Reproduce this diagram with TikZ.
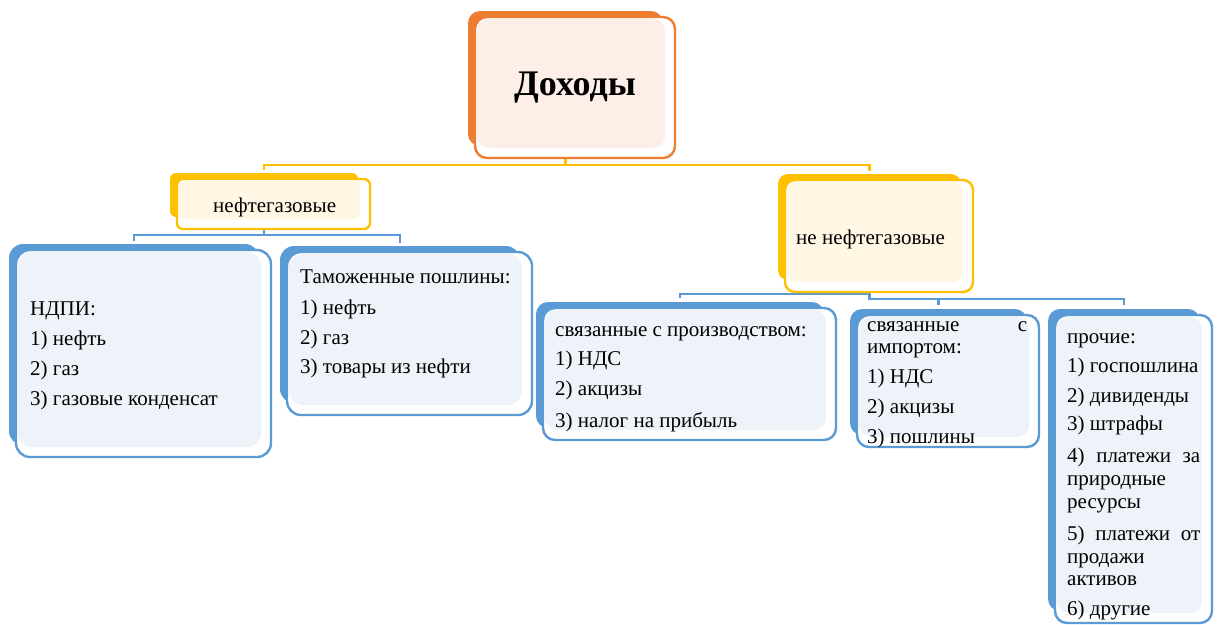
\documentclass[tikz,border=0pt]{standalone}
\usepackage{fontspec}
\setmainfont{Liberation Serif}
\usetikzlibrary{backgrounds}
\definecolor{cOr}{HTML}{ED7D31}
\definecolor{fOr}{HTML}{FDEFE7}
\definecolor{cGo}{HTML}{FFC000}
\definecolor{fGo}{HTML}{FFF7E3}
\definecolor{cBl}{HTML}{5B9BD5}
\definecolor{fBl}{HTML}{EEF3FA}
\newcommand{\tribox}[8]{%
  \node[fill=#2, rounded corners=#8, anchor=north west, inner sep=0pt, outer sep=0pt,
        minimum width={#6-#4-5}, minimum height={#7-#5-6}] (#1b) at (#4-7,#5-6) {};
  \node[draw=#2, line width=2.4pt, fill=white, rounded corners=#8, anchor=north west, inner sep=0pt, outer sep=0pt,
        minimum width={#6-#4}, minimum height={#7-#5}] (#1) at (#4,#5) {};
  \fill[#3, rounded corners=#8] (#4+2,#5+2) rectangle (#6-10,#7-10);
}
\tikzset{
  gcon/.style={draw=cGo, line width=2.8pt},
  bcon/.style={draw=cBl, line width=2.8pt},
  txt/.style={anchor=base west, inner sep=0pt, font=\fontsize{21}{24}\selectfont},
}
\begin{document}
\begin{tikzpicture}[x=1pt,y=-1pt]
\useasboundingbox (0,0) rectangle (1217,624);
% boxes
\tribox{dox}{cOr}{fOr}{475}{17}{675}{158}{12pt}
\tribox{neft}{cGo}{fGo}{177}{179}{370}{229}{6pt}
\tribox{nneft}{cGo}{fGo}{785}{180}{973}{292}{10pt}
\tribox{ndpi}{cBl}{fBl}{16}{250}{271}{457}{14pt}
\tribox{tam}{cBl}{fBl}{287}{252}{532}{415}{14pt}
\tribox{proizv}{cBl}{fBl}{543}{308}{836}{440}{12pt}
\tribox{imp}{cBl}{fBl}{857}{315}{1039}{447}{12pt}
\tribox{proch}{cBl}{fBl}{1055}{315}{1212}{623}{12pt}
% connectors
\begin{scope}[on background layer]
\draw[gcon] (doxb.south) -- (doxb.south |- 0,165) -| ([yshift=3pt]neftb.north);
\draw[gcon] (doxb.south |- 0,165) -| ([yshift=3pt]nneftb.north);
\draw[bcon] (neftb.south) -- (neftb.south |- 0,235) -| ([yshift=3pt]ndpib.north);
\draw[bcon] (neftb.south |- 0,235) -| ([yshift=3pt]tamb.north);
\draw[bcon] (nneftb.south) -- (nneftb.south |- 0,294) -| ([yshift=4pt]proizvb.north);
\draw[bcon] (nneftb.south |- 0,285) -- (nneftb.south |- 0,299) -| ([yshift=4pt]impb.north);
\draw[bcon] (nneftb.south |- 0,299) -| ([yshift=4pt]prochb.north);
\end{scope}
% texts
\node[anchor=center, inner sep=0pt, font=\fontsize{36}{40}\selectfont\bfseries] (tdox) at (575,88) {Доходы};
\node[txt] (tneft) at (213,212) {нефтегазовые};
\node[txt] (tnneft) at (796,244) {не нефтегазовые};
% НДПИ
\node[txt] (a1) at (30,315) {НДПИ:};
\node[txt] (a2) at (30,345) {1) нефть};
\node[txt] (a3) at (30,375) {2) газ};
\node[txt] (a4) at (30,405) {3) газовые конденсат};
% Таможенные
\node[txt] (b1) at (300,283) {Таможенные пошлины:};
\node[txt] (b2) at (300,314) {1) нефть};
\node[txt] (b3) at (300,344) {2) газ};
\node[txt] (b4) at (300,373) {3) товары из нефти};
% производство
\node[txt] (c1) at (555,336) {связанные с производством:};
\node[txt] (c2) at (555,365) {1) НДС};
\node[txt] (c3) at (555,395) {2) акцизы};
\node[txt] (c4) at (555,427) {3) налог на прибыль};
% импорт
\node[txt] (d1) at (867,331) {\makebox[160pt][s]{связанные с}};
\node[txt] (d2) at (867,353) {импортом:};
\node[txt] (d3) at (867,383) {1) НДС};
\node[txt] (d4) at (867,413) {2) акцизы};
\node[txt] (d5) at (867,443) {3) пошлины};
% прочие
\node[txt] (e1) at (1067,343) {прочие:};
\node[txt] (e2) at (1067,372) {1) госпошлина};
\node[txt] (e3) at (1067,402) {2) дивиденды};
\node[txt] (e4) at (1067,430) {3) штрафы};
\node[txt] (e5) at (1067,462) {\makebox[133pt][s]{4) платежи за}};
\node[txt] (e6) at (1067,485) {природные};
\node[txt] (e7) at (1067,508) {ресурсы};
\node[txt] (e8) at (1067,540) {\makebox[133pt][s]{5) платежи от}};
\node[txt] (e9) at (1067,563) {продажи};
\node[txt] (e10) at (1067,585) {активов};
\node[txt] (e11) at (1067,615) {6) другие};
\end{tikzpicture}
\end{document}
